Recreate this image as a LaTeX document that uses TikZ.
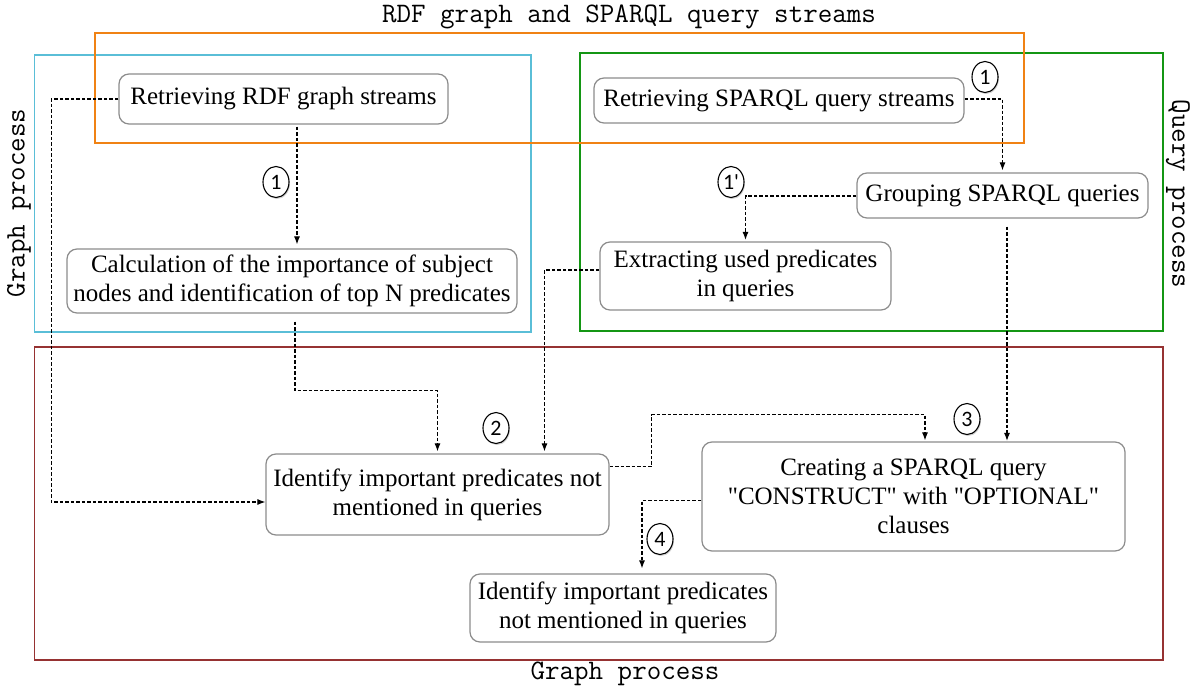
\documentclass[tikz,border=0pt]{standalone}
\usepackage{fontspec}
\newfontfamily\serifnode{Liberation Serif}
\newfontfamily\numfont{Carlito}
\usetikzlibrary{arrows.meta,shapes.geometric,shadows}
\definecolor{orangeframe}{RGB}{240,130,20}
\definecolor{cyanframe}{RGB}{90,190,215}
\definecolor{greenframe}{RGB}{20,150,20}
\definecolor{brownframe}{RGB}{150,50,50}
\definecolor{nodegray}{RGB}{140,140,140}
\tikzset{
  frame/.style={line width=1.2pt},
  proc/.style={draw=nodegray, line width=1.2pt, rounded corners=10pt, fill=white,
    align=center, inner sep=2pt, font=\serifnode\fontsize{25}{29}\selectfont},
  conn/.style={line width=1.1pt, dash pattern=on 3.5pt off 2pt, -{Latex[length=8pt,width=6pt]}},
  num/.style={ellipse, draw, line width=1.1pt, fill=white, minimum width=26pt, minimum height=31pt,
    inner sep=0pt, font=\numfont\fontsize{22}{22}\selectfont,
    drop shadow={opacity=0.35, shadow xshift=1pt, shadow yshift=-1.5pt}},
  lbl/.style={font=\ttfamily\fontsize{28.2}{30}\selectfont}
}
\begin{document}
\begin{tikzpicture}[x=1pt,y=-1pt]
\useasboundingbox (0,0) rectangle (1194,688);
% frames
\draw[frame, brownframe] (34.5,347) rectangle (1163,660);
\draw[frame, cyanframe] (34.5,55) rectangle (531,332);
\draw[frame, greenframe] (580,53) rectangle (1163,331);
\draw[frame, orangeframe] (95,33) rectangle (1024,143);
% frame labels
\node[lbl] (t1) at (629,17) {RDF graph and SPARQL query streams};
\node[lbl, rotate=90] (t2) at (19,203) {Graph process};
\node[lbl, rotate=-90] (t3) at (1178,194) {Query process};
\node[lbl] (t4) at (625,674) {Graph process};
% process nodes
\node[proc, minimum width=329pt, minimum height=50pt] (A) at (283.5,99) {Retrieving RDF graph streams};
\node[proc, minimum width=450pt, minimum height=64pt] (B) at (292,281) {Calculation of the importance of subject\\nodes and identification of top N predicates};
\node[proc, minimum width=370pt, minimum height=45pt] (C) at (779,100.5) {Retrieving SPARQL query streams};
\node[proc, minimum width=291pt, minimum height=45pt] (D) at (1002.5,195.5) {Grouping SPARQL queries};
\node[proc, minimum width=291pt, minimum height=68pt] (E) at (745.5,276) {Extracting used predicates\\in queries};
\node[proc, minimum width=343pt, minimum height=81pt] (F) at (437.5,494.5) {Identify important predicates not\\mentioned in queries};
\node[proc, minimum width=423pt, minimum height=109pt] (G) at (913.5,496.5) {Creating a SPARQL query\\"CONSTRUCT" with "OPTIONAL"\\clauses};
\node[proc, minimum width=306pt, minimum height=68pt] (H) at (623,608) {Identify important predicates\\not mentioned in queries};
% connectors
\draw[conn] ([xshift=13.5pt,yshift=-2pt]A.south) -- ([xshift=13.5pt,yshift=4pt]A.south |- B.north);
\draw[conn] (A.west) -- ++(-67,0) |- ([yshift=-7.5pt]F.west);
\draw[conn] ([xshift=3pt,yshift=-8pt]B.south) -- ++(0,69) -| ([xshift=0pt,yshift=2pt]F.north);
\draw[conn] ([yshift=6pt]E.west) -| ([xshift=107pt,yshift=2pt]F.north);
\draw[conn] ([yshift=1.5pt]C.east) -| ([yshift=2pt]D.north);
\draw[conn] ([yshift=-0.5pt]D.west) -| ([yshift=1.5pt]E.north);
\draw[conn] ([xshift=4.5pt,yshift=-8pt]D.south) -- ([xshift=4.5pt,yshift=0.5pt]D.south |- G.north);
\draw[conn] ([yshift=28pt]F.east) -- ++(42,0) -- ++(0,-52) -| ([xshift=11.5pt,yshift=1pt]G.north);
\draw[conn] ([yshift=-4pt]G.west) -| ([xshift=19pt,yshift=5pt]H.north);
% step numbers
\node[num] (n1a) at (276,182) {1};
\node[num] (n1b) at (985,77) {1};
\node[num] (n1c) at (731,182) {1'};
\node[num] (n2) at (496,428) {2};
\node[num] (n3) at (967,419) {3};
\node[num] (n4) at (660,539) {4};
\end{tikzpicture}
\end{document}
